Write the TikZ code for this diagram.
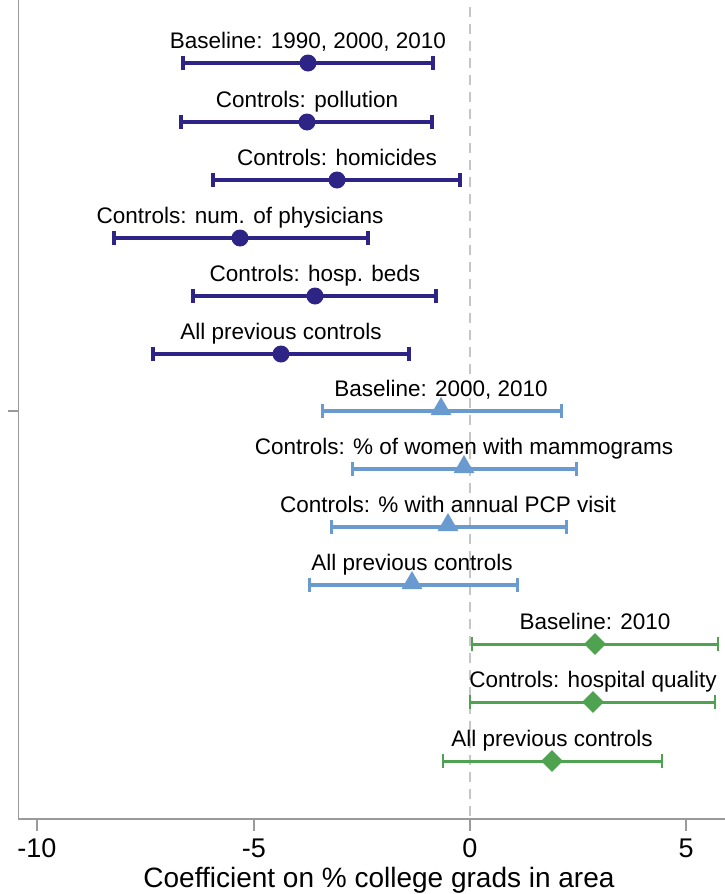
\documentclass[tikz,border=0pt]{standalone}
\usepackage{fontspec}
\setmainfont{Liberation Sans}
\usetikzlibrary{shapes.geometric}
\definecolor{navy}{HTML}{2E2486}
\definecolor{lblue}{HTML}{6A9BD0}
\definecolor{grn}{HTML}{4FA24F}
\definecolor{axgray}{HTML}{9A9A9A}
\tikzset{
  lbl/.style={font=\fontsize{22.5}{27}\selectfont, anchor=base, inner sep=0},
  cibar/.style={line width=3.6pt},
  capbar/.style={line width=3.2pt},
  dotmark/.style={circle, fill=navy, minimum size=17pt, inner sep=0},
  trimark/.style={regular polygon, regular polygon sides=3, fill=lblue, minimum size=24pt, inner sep=0},
  diamark/.style={diamond, fill=grn, minimum width=22pt, minimum height=22pt, inner sep=0},
  ticklbl/.style={font=\fontsize{27}{32}\selectfont, inner sep=0},
}
\newcommand{\cirow}[7]{% name, color, y, lo, est, hi, label
  \coordinate (#1l) at (#4,#3);
  \coordinate (#1h) at (#6,#3);
  \draw[cibar,#2] (#1l) -- (#1h);
  \draw[capbar,#2] ([yshift=-7pt]#1l) -- ([yshift=7pt]#1l);
  \draw[capbar,#2] ([yshift=-7pt]#1h) -- ([yshift=7pt]#1h);
  \node[lbl] (#1t) at (#5,{#3-15}) {#7};
}
\begin{document}
\begin{tikzpicture}[x=1pt,y=-1pt]
\useasboundingbox (0,0) rectangle (725,894);
% zero line
\coordinate (zt) at (470,7);
\coordinate (zb) at (470,819);
\draw[gray!45, line width=2pt, dash pattern=on 10pt off 7pt] (zt) -- (zb);
% axes
\coordinate (yt) at (18.5,0);
\coordinate (o) at (18.5,819);
\coordinate (xr) at (725,819);
\draw[axgray, line width=1.6pt] (yt) -- (o) -- (xr);
\coordinate (ytk) at (8,411);
\coordinate (ytk0) at (18.5,411);
\draw[axgray, line width=1.6pt] (ytk) -- (ytk0);
\foreach \xv/\lab [count=\i] in {37/-10,254/-5,470/0,686/5}{
  \coordinate (tk\i) at (\xv,819);
  \draw[axgray, line width=1.6pt] (tk\i) -- ++(0,12);
  \node[ticklbl] (tl\i) at (\xv,848) {\lab};
}
\node[font=\fontsize{28}{33}\selectfont, inner sep=0] (xtitle) at (379,880) {Coefficient on \% college grads in area};
% navy rows
\cirow{a}{navy}{63}{183}{308}{433}{Baseline: 1990, 2000, 2010}
\node[dotmark] (ae) at (308,63) {};
\cirow{b}{navy}{122}{181}{307}{432}{Controls: pollution}
\node[dotmark] (be) at (307,122) {};
\cirow{c}{navy}{180}{213}{337}{460}{Controls: homicides}
\node[dotmark] (ce) at (337,180) {};
\cirow{d}{navy}{238}{114}{240}{368}{Controls: num. of physicians}
\node[dotmark] (de) at (240,238) {};
\cirow{e}{navy}{296}{193}{315}{436}{Controls: hosp. beds}
\node[dotmark] (ee) at (315,296) {};
\cirow{f}{navy}{354}{153}{281}{409}{All previous controls}
\node[dotmark] (fe) at (281,354) {};
% light blue rows
\begin{scope}[cibar/.style={line width=3.4pt}, capbar/.style={line width=3pt}]
\cirow{g}{lblue}{411}{322}{441}{561}{Baseline: 2000, 2010}
\node[trimark] (ge) at (441,409) {};
\cirow{h}{lblue}{469}{352}{464}{576}{Controls: \% of women with mammograms}
\node[trimark] (he) at (464,467) {};
\cirow{i}{lblue}{527}{331}{448}{566}{Controls: \% with annual PCP visit}
\node[trimark] (ie) at (448,525) {};
\cirow{j}{lblue}{585}{309}{412}{517}{All previous controls}
\node[trimark] (je) at (412,583) {};
\end{scope}
% green rows
\begin{scope}[cibar/.style={line width=3pt}, capbar/.style={line width=2.6pt}]
\cirow{k}{grn}{644}{472}{595}{718}{Baseline: 2010}
\node[diamark] (ke) at (595,644) {};
\cirow{l}{grn}{702}{470}{593}{715}{Controls: hospital quality}
\node[diamark] (le) at (593,702) {};
\cirow{m}{grn}{761}{443}{552}{662}{All previous controls}
\node[diamark] (me) at (552,761) {};
\end{scope}
\end{tikzpicture}
\end{document}
